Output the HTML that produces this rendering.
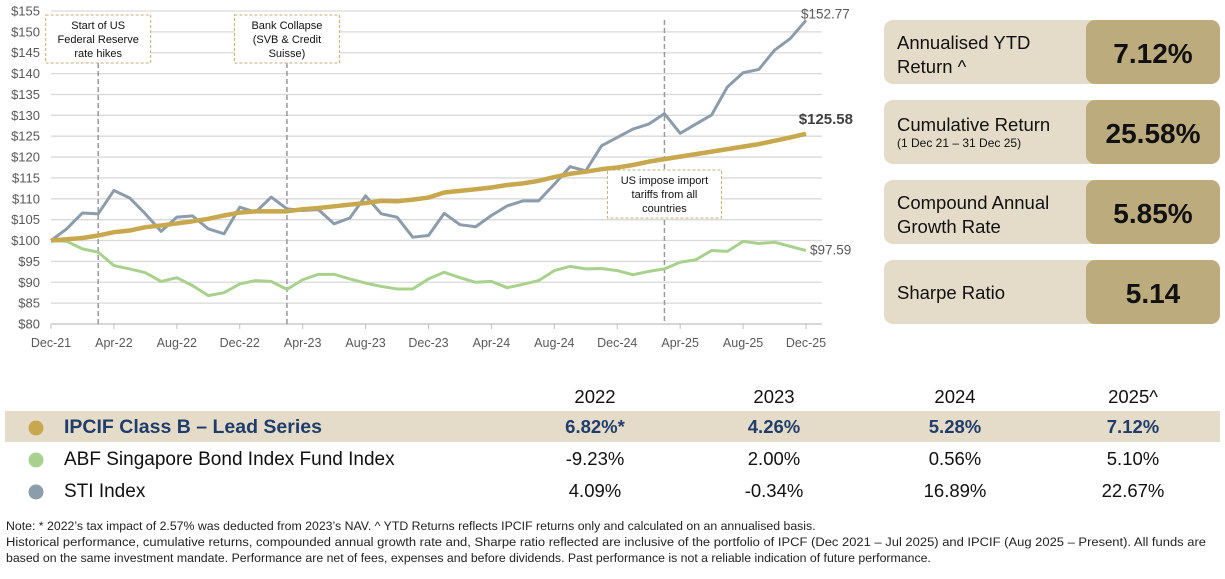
<!DOCTYPE html>
<html><head><meta charset="utf-8"><style>
body{margin:0;background:#fff;width:1225px;height:579px;overflow:hidden;font-family:"Liberation Sans",sans-serif}
svg{display:block}
</style></head><body>
<svg id="c" width="1225" height="579" viewBox="0 0 1225 579">
<g id="grid"></g>
<g id="yax"></g>
<g id="xax"></g>
<g id="events"></g>
<g id="series"></g>
<g id="panel"></g>
<g id="table"></g>
<g font-size="12.3" fill="#222">
<text x="6" y="530">Note: * 2022’s tax impact of 2.57% was deducted from 2023’s NAV. ^ YTD Returns reflects IPCIF returns only and calculated on an annualised basis.</text>
<text x="6" y="546" textLength="1200" lengthAdjust="spacingAndGlyphs">Historical performance, cumulative returns, compounded annual growth rate and, Sharpe ratio reflected are inclusive of the portfolio of IPCF (Dec 2021 – Jul 2025) and IPCIF (Aug 2025 – Present). All funds are</text>
<text x="6" y="562">based on the same investment mandate. Performance are net of fees, expenses and before dividends. Past performance is not a reliable indication of future performance.</text>
</g>
</svg>
<script>
const ipcif=[100,100.3,100.6,101.2,102,102.4,103.2,103.6,104.1,104.6,105.2,106,106.7,107,107,107,107.5,107.8,108.2,108.6,109,109.5,109.4,109.8,110.3,111.5,111.9,112.3,112.7,113.3,113.7,114.3,115.2,116,116.5,117.1,117.5,118.1,118.9,119.5,120.1,120.7,121.3,121.9,122.5,123.1,123.9,124.7,125.58];
const abf=[100,99.8,98,97.2,94,93.2,92.3,90.2,91.1,89.2,86.8,87.5,89.6,90.4,90.2,88.3,90.6,91.9,91.9,90.8,89.8,89,88.4,88.4,90.8,92.4,91.1,90,90.2,88.7,89.5,90.4,92.8,93.8,93.2,93.3,92.8,91.8,92.6,93.2,94.8,95.4,97.6,97.4,99.8,99.3,99.6,98.6,97.59];
const sti=[100,102.8,106.6,106.4,112,110.2,106.4,102.2,105.6,105.9,102.8,101.6,108,106.8,110.4,107.6,107.2,107.4,104,105.4,110.7,106.4,105.6,100.8,101.2,106.5,103.8,103.3,106,108.3,109.5,109.5,113.5,117.7,116.7,122.7,124.7,126.7,127.9,130.4,125.7,127.9,130.1,136.8,140.2,141,145.6,148.4,152.77];
const yTicks=[80,85,90,95,100,105,110,115,120,125,130,135,140,145,150,155];
const xLabels=["Dec-21","Apr-22","Aug-22","Dec-22","Apr-23","Aug-23","Dec-23","Apr-24","Aug-24","Dec-24","Apr-25","Aug-25","Dec-25"];
const xLabelMonths=[0,4,8,12,16,20,24,28,32,36,40,44,48];
const eventMonths=[3,15,39];
const eventTexts=[["Start of US","Federal Reserve","rate hikes"],["Bank Collapse","(SVB & Credit","Suisse)"],["US impose import","tariffs from all","countries"]];
const metricLabels=[["Annualised YTD","Return ^"],["Cumulative Return"],["Compound Annual","Growth Rate"],["Sharpe Ratio"]];
const metricValues=["7.12%","25.58%","5.85%","5.14"];
const years=["2022","2023","2024","2025^"];
const rowNames=["IPCIF Class B – Lead Series","ABF Singapore Bond Index Fund Index","STI Index"];
const rowVals=[["6.82%*","4.26%","5.28%","7.12%"],["-9.23%","2.00%","0.56%","5.10%"],["4.09%","-0.34%","16.89%","22.67%"]];

const NS="http://www.w3.org/2000/svg";
function mk(p,t,a,txt){const e=document.createElementNS(NS,t);for(const k in a)e.setAttribute(k,a[k]);if(txt!==undefined)e.textContent=txt;p.appendChild(e);return e;}
const X0=51,X1=806,Y0=324,Y1=11;
const x=m=>X0+(X1-X0)*m/48;
const y=v=>Y0-(v-80)*(Y0-Y1)/75;
const G=id=>document.getElementById(id);

yTicks.forEach(t=>{
  const l=mk(G('grid'),'line',{x1:X0,x2:822,y1:y(t),y2:y(t),stroke:t===80?'#bfbfbf':'#d9d9d9','stroke-width':1.3});
  
  
  const tx=mk(G('yax'),'text',{x:40,y:y(t)+4.5,'text-anchor':'end','font-size':13,fill:'#595959'},'$'+t);
  
  
});
xLabels.forEach((s,i)=>{
  const m=xLabelMonths[i];
  mk(G('xax'),'line',{x1:x(m),x2:x(m),y1:Y0,y2:Y0+5,stroke:'#bfbfbf'});
  const tx=mk(G('xax'),'text',{x:x(m),y:347,'text-anchor':'middle','font-size':12.5,fill:'#595959'},s);
  
  
});
// events
eventMonths.forEach((m,i)=>{
  const ex=x(m);
  const third=i===2;
  const bw=third?114:105, bx=ex-bw/2, by=third?170:15;
  const ln=mk(G('events'),'line',{x1:ex,x2:ex,y1:third?20:63,y2:Y0,stroke:'#999','stroke-width':1.5,'stroke-dasharray':'5,3'});
  
  
  const r=mk(G('events'),'rect',{x:bx,y:by,width:bw,height:48,fill:'#fff',stroke:'#c9ad7a','stroke-dasharray':'3,2'});
  
  
  eventTexts[i].forEach((t,j)=>{
    const tt=mk(G('events'),'text',{x:ex,y:by+14+j*14,'text-anchor':'middle','font-size':11,fill:'#111'},t);
    
    
  });
});
function line(arr,col,w,name){
  const p=mk(G('series'),'polyline',{points:arr.map((v,i)=>x(i)+','+y(v)).join(' '),fill:'none',stroke:col,'stroke-width':w,'stroke-linejoin':'round'});
  
  
}
line(abf,'#a9d18e',3,'abf-line');
line(sti,'#8c9cab',3,'sti-line');
line(ipcif,'#c8a84e',4.5,'ipcif-line');
let t=mk(G('series'),'text',{x:x(48)-5,y:y(sti[48])-2,'font-size':13.5,fill:'#595959'},'$'+sti[48].toFixed(2));

t=mk(G('series'),'text',{x:x(48)+47,y:y(ipcif[48])-10,'text-anchor':'end','font-size':15,'font-weight':'bold',fill:'#404040'},'$'+ipcif[48].toFixed(2));

t=mk(G('series'),'text',{x:x(48)+4,y:y(abf[48])+4,'font-size':13.5,fill:'#595959'},'$'+abf[48].toFixed(2));


// metrics panel
metricLabels.forEach((lab,i)=>{
  const by=20+i*80;
  const g=mk(G('panel'),'g',{});
  
  
  mk(g,'rect',{x:884,y:by,width:336,height:64,rx:9,fill:'#e4dcc8'});
  mk(g,'rect',{x:1086,y:by,width:134,height:64,rx:9,fill:'#bcab7d'});
  if(i===1){
    mk(g,'text',{x:897,y:by+31,'font-size':18.5,fill:'#111'},lab[0]);
    mk(g,'text',{x:897,y:by+47,'font-size':12,fill:'#111'},'(1 Dec 21 – 31 Dec 25)');
  }else if(lab.length===2){
    mk(g,'text',{x:897,y:by+29,'font-size':18.5,fill:'#111'},lab[0]);
    mk(g,'text',{x:897,y:by+53,'font-size':18.5,fill:'#111'},lab[1]);
  }else{
    mk(g,'text',{x:897,y:by+39,'font-size':18.5,fill:'#111'},lab[0]);
  }
  mk(g,'text',{x:1153,y:by+43,'text-anchor':'middle','font-size':28,'font-weight':'bold',fill:'#111'},metricValues[i]);
});

// table
const colX=[595,774,955,1133];
years.forEach((s,i)=>{const e=mk(G('table'),'text',{x:colX[i],y:403,'text-anchor':'middle','font-size':18.5,fill:'#111'},s);
  });
mk(G('table'),'rect',{x:5,y:411,width:1215,height:31,fill:'#e4dcc8'});
const dotCols=['#c8a84e','#a9d18e','#8c9cab'];
rowNames.forEach((n,r)=>{
  const ry=433+r*32;
  const g=mk(G('table'),'g',{});
  
  
  mk(g,'circle',{cx:36,cy:ry-5,r:7.5,fill:dotCols[r]});
  const col=r===0?'#1f3c6b':'#111';
  mk(g,'text',{x:64,y:ry,'font-size':r===0?19.5:19,'font-weight':r===0?'bold':'normal',fill:col},n);
  rowVals[r].forEach((v,c)=>mk(g,'text',{x:colX[c],y:ry,'text-anchor':'middle','font-size':18.5,'font-weight':r===0?'bold':'normal',fill:col},v));
});
</script>
</body></html>
